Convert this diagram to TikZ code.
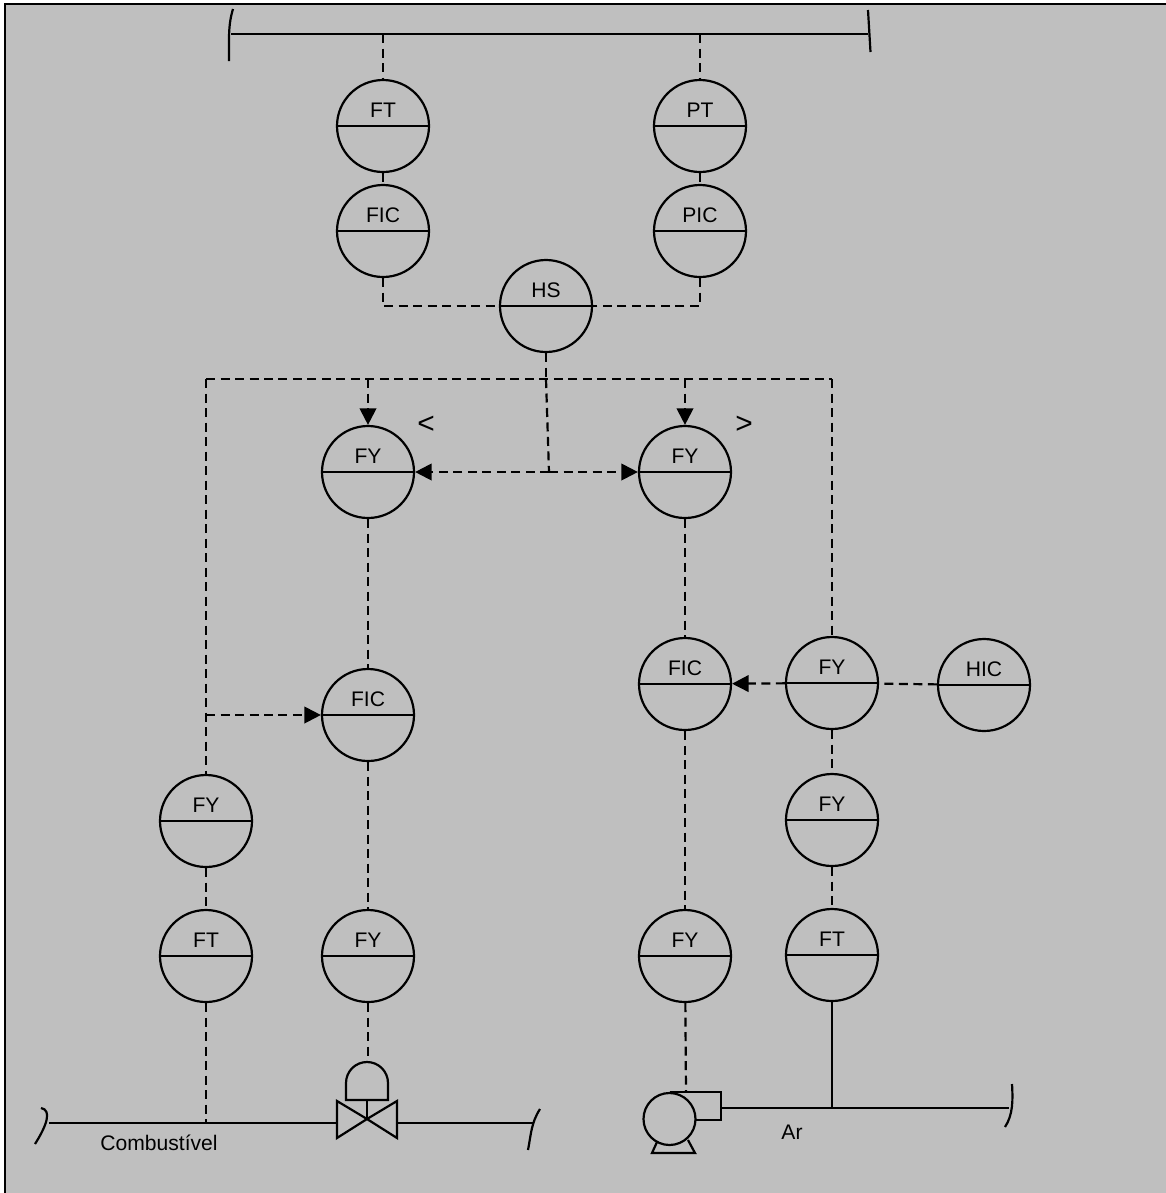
\documentclass[tikz,border=0pt]{standalone}
\usepackage{fontspec}
\setmainfont{Liberation Sans}
\usetikzlibrary{arrows.meta}
\tikzset{
  instr/.style={circle,draw,line width=1.25pt,minimum size=1.84cm,inner sep=0pt,text height=.4cm,text depth=.74cm,
    path picture={\draw[line width=1.25pt] (path picture bounding box.west) -- (path picture bounding box.east);}},
  sinal/.style={dashed,dash pattern=on .18cm off .11cm,line width=1.25pt},
  seta/.style={sinal,-{Triangle[length=.33cm,width=.33cm,sharp]}},
  tubo/.style={line width=1.25pt}
}
\begin{document}
\begin{tikzpicture}[line width=1.25pt,font=\fontsize{12}{14}\selectfont]
    \useasboundingbox (0,0) rectangle (23.32,-23.86);
    \fill[white] (0,0) rectangle (23.32,-23.86);
    \draw[fill=black!25,line width=1.6pt] (.1,-.08) rectangle (23.5,-24.1);

    \draw node at (7.66,-2.52)[name=ftA,instr]{FT};
    \draw node at (14,-2.52)[name=pt,instr]{PT};
    \draw node at (7.66,-4.62)[name=ficA,instr]{FIC};
    \draw node at (14,-4.62)[name=pic,instr]{PIC};
    \draw node at (10.92,-6.12)[name=hs,instr]{HS};
    \draw node at (7.36,-9.44)[name=fyMin,instr]{FY};
    \draw node at (13.7,-9.44)[name=fyMax,instr]{FY};
    \draw node at (7.36,-14.3)[name=ficB,instr]{FIC};
    \draw node at (13.7,-13.68)[name=ficC,instr]{FIC};
    \draw node at (16.64,-13.66)[name=fyA,instr]{FY};
    \draw node at (19.68,-13.7)[name=hic,instr]{HIC};
    \draw node at (16.64,-16.4)[name=fyB,instr]{FY};
    \draw node at (4.12,-16.42)[name=fyC,instr]{FY};
    \draw node at (4.12,-19.12)[name=ftB,instr]{FT};
    \draw node at (7.36,-19.12)[name=fyD,instr]{FY};
    \draw node at (13.7,-19.12)[name=fyE,instr]{FY};
    \draw node at (16.64,-19.1)[name=ftC,instr]{FT};

    \draw node at (8.52,-8.5)[name=menor]{\fontsize{17}{17}\selectfont <};
    \draw node at (14.88,-8.5)[name=maior]{\fontsize{17}{17}\selectfont >};
    \draw node at (3.18,-22.86)[name=comb]{Combustível};
    \draw node at (15.84,-22.64)[name=ar]{Ar};

    \coordinate (topoA) at (4.62,-.68);
    \coordinate (topoB) at (17.36,-.68);
    \coordinate (topoFT) at (7.66,-.68);
    \coordinate (topoPT) at (14,-.68);
    \coordinate (linhaA) at (4.12,-7.58);
    \coordinate (linhaB) at (10.92,-7.58);
    \coordinate (linhaC) at (16.64,-7.58);
    \coordinate (linhaMin) at (7.36,-7.58);
    \coordinate (linhaMax) at (13.7,-7.58);
    \coordinate (centro) at (10.98,-9.44);
    \coordinate (ramo) at (4.12,-14.3);
    \coordinate (combA) at (.98,-22.46);
    \coordinate (combB) at (10.66,-22.46);
    \coordinate (combFT) at (4.12,-22.46);
    \coordinate (vEsq) at (6.74,-22.46);
    \coordinate (vDir) at (7.94,-22.46);
    \coordinate (vCentro) at (7.34,-22.38);
    \coordinate (atuador) at (7.36,-21.24);
    \coordinate (bomba) at (13.72,-21.84);
    \coordinate (arA) at (14.42,-22.16);
    \coordinate (arB) at (20.18,-22.16);
    \coordinate (arFT) at (16.64,-22.16);

    \draw (topoA) -- (topoB);
    \draw (4.66,-.18) .. controls (4.56,-.5) and (4.58,-.8) .. (4.58,-1.22);
    \draw (17.36,-.2) -- (17.41,-1.04);
    \draw[sinal] (topoFT) -- (ftA);
    \draw[sinal] (topoPT) -- (pt);
    \draw[sinal] (ftA) -- (ficA);
    \draw[sinal] (pt) -- (pic);
    \draw[sinal] (ficA) |- (hs);
    \draw[sinal] (pic) |- (hs);
    \draw[sinal] (hs) -- (linhaB);
    \draw[sinal] (linhaA) -- (linhaC);
    \draw[seta] (linhaMin) -- (fyMin);
    \draw[seta] (linhaMax) -- (fyMax);
    \draw[sinal] (linhaB) -- (centro);
    \draw[seta] (centro) -- (fyMin);
    \draw[seta] (centro) -- (fyMax);
    \draw[sinal] (linhaA) -- (fyC);
    \draw[sinal] (linhaC) -- (fyA);
    \draw[seta] (ramo) -- (ficB);
    \draw[sinal] (fyMin) -- (ficB);
    \draw[sinal] (fyMax) -- (ficC);
    \draw[seta] (fyA) -- (ficC);
    \draw[sinal] (hic) -- (fyA);
    \draw[sinal] (fyA) -- (fyB);
    \draw[sinal] (fyB) -- (ftC);
    \draw[sinal] (fyC) -- (ftB);
    \draw[sinal] (ficB) -- (fyD);
    \draw[sinal] (ficC) -- (fyE);
    \draw[sinal] (ftB) -- (combFT);
    \draw[sinal] (fyD) -- (atuador);
    \draw[sinal] (fyE) -- (bomba);
    \draw (ftC) -- (arFT);

    \draw[tubo] (combA) -- (vEsq);
    \draw[tubo] (vDir) -- (combB);
    \draw[tubo] (6.74,-22.02) -- (6.74,-22.76) -- (vCentro) -- cycle;
    \draw[tubo] (7.94,-22.02) -- (7.94,-22.76) -- (vCentro) -- cycle;
    \draw[tubo] (vCentro) -- (7.34,-22);
    \draw[tubo] (6.92,-22) -- (6.92,-21.66) arc (180:0:.42) -- (7.76,-22) -- cycle;
    \draw (.82,-22.16) .. controls (1.04,-22.2) and (.94,-22.5) .. (.7,-22.88);
    \draw (10.8,-22.18) .. controls (10.62,-22.46) and (10.62,-22.7) .. (10.56,-23);

    \draw node at (13.39,-22.38)[name=motor,circle,draw,minimum size=1.04cm,inner sep=0pt]{};
    \draw[tubo] (13.39,-21.84) -- (14.42,-21.84) -- (14.42,-22.4) -- (13.9,-22.4);
    \draw[tubo] (13.14,-22.84) -- (13.04,-23.06) -- (13.9,-23.06) -- (13.76,-22.8);
    \draw[tubo] (arA) -- (arB);
    \draw (20.24,-21.68) .. controls (20.26,-22) and (20.26,-22.3) .. (20.1,-22.54);
\end{tikzpicture}
\end{document}
